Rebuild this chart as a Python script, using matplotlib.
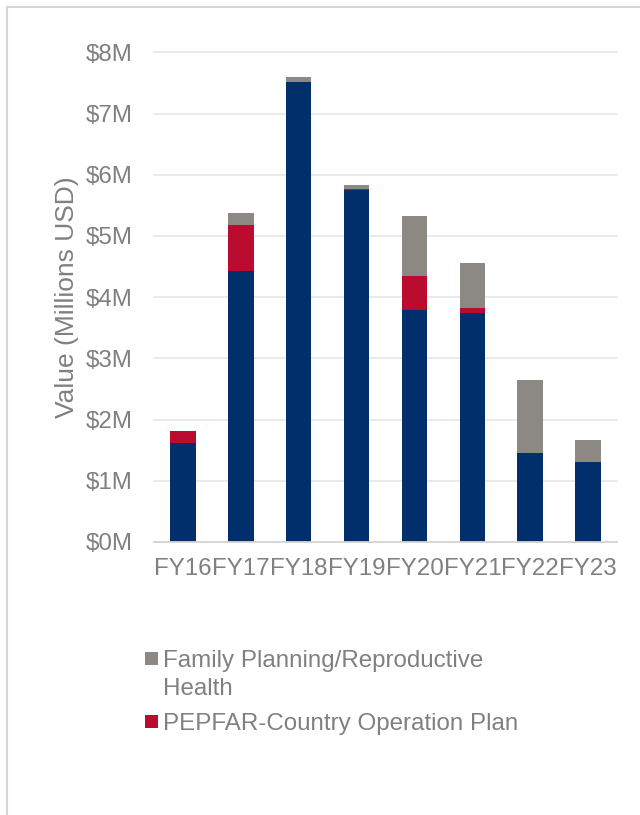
import matplotlib
matplotlib.use("Agg")
import matplotlib.pyplot as plt
from matplotlib.patches import Rectangle
from matplotlib.lines import Line2D
from matplotlib.ticker import FuncFormatter, MultipleLocator
import numpy as np

# ---- data (millions USD) ----
years = ["FY16", "FY17", "FY18", "FY19", "FY20", "FY21", "FY22", "FY23"]
other = [1.61, 4.42, 7.52, 5.75, 3.79, 3.74, 1.46, 1.31]
pepfar = [0.21, 0.76, 0.00, 0.02, 0.56, 0.09, 0.00, 0.00]
fprh = [0.00, 0.20, 0.07, 0.06, 0.97, 0.72, 1.19, 0.35]
legend_labels = ["Family Planning/Reproductive\nHealth", "PEPFAR-Country Operation Plan"]

NAVY = "#002F6C"
RED = "#BA0C2F"
GRAY = "#8C8985"
TXT = "#808080"

plt.rcParams["font.family"] = ["Liberation Sans", "DejaVu Sans"]

W, H = 640, 815
fig = plt.figure(figsize=(W / 100, H / 100), dpi=100)

# card border (top and left edges visible)
fig.add_artist(Line2D([6.5 / W, 6.5 / W], [0, 1 - 6.5 / H], transform=fig.transFigure,
                      color="#d4d4d4", lw=1.5))
fig.add_artist(Line2D([6.5 / W, 1], [1 - 6.5 / H, 1 - 6.5 / H], transform=fig.transFigure,
                      color="#d4d4d4", lw=1.5))

ax_l, ax_r, ax_t, ax_b = 154, 617, 52.3, 542
ax = fig.add_axes([ax_l / W, 1 - ax_b / H, (ax_r - ax_l) / W, (ax_b - ax_t) / H])

x = np.arange(len(years))
bw = 0.44
other_a = np.array(other)
pepfar_a = np.array(pepfar)
fprh_a = np.array(fprh)
ax.bar(x, other_a, width=bw, color=NAVY, zorder=3)
ax.bar(x, pepfar_a, width=bw, bottom=other_a, color=RED, zorder=3)
ax.bar(x, fprh_a, width=bw, bottom=other_a + pepfar_a, color=GRAY, zorder=3)

ax.set_xlim(-0.5, len(years) - 0.5)
ax.set_ylim(0, 8)
ax.yaxis.set_major_locator(MultipleLocator(1))
ax.yaxis.set_major_formatter(FuncFormatter(lambda v, p: f"${v:.0f}M"))
ax.set_xticks(x)
ax.set_xticklabels(years)

ax.grid(axis="y", color="#e4e4e4", lw=1.1, zorder=0)
for gl in ax.get_ygridlines():
    gl.set_clip_on(False)
for s in ["top", "right", "left"]:
    ax.spines[s].set_visible(False)
ax.spines["bottom"].set_color("#d6d6d6")
ax.spines["bottom"].set_linewidth(1.3)
ax.spines["bottom"].set_zorder(4)

FS = 17.4
ax.tick_params(axis="both", length=0, labelcolor=TXT, labelsize=FS)
ax.tick_params(axis="y", pad=15.5)
ax.tick_params(axis="x", pad=11.5)

ax.set_ylabel("Value (Millions USD)", fontsize=19, color=TXT)
ax.yaxis.set_label_coords((79 - ax_l) / (ax_r - ax_l), 0.5)

# legend (manual, square aligned with first line)
LINE = 28
entries = [(GRAY, legend_labels[0], 667, 652), (RED, legend_labels[1], 730, 715)]
for col, lab, ybase, ysq in entries:
    fig.add_artist(Rectangle((145 / W, 1 - (ysq + 13) / H), 13 / W, 13 / H,
                             transform=fig.transFigure, facecolor=col, edgecolor="none"))
    for i, line in enumerate(lab.split("\n")):
        fig.text(163 / W, 1 - (ybase + i * LINE) / H, line, fontsize=FS, color=TXT,
                 ha="left", va="baseline")

fig.savefig("out.png", dpi=100)
